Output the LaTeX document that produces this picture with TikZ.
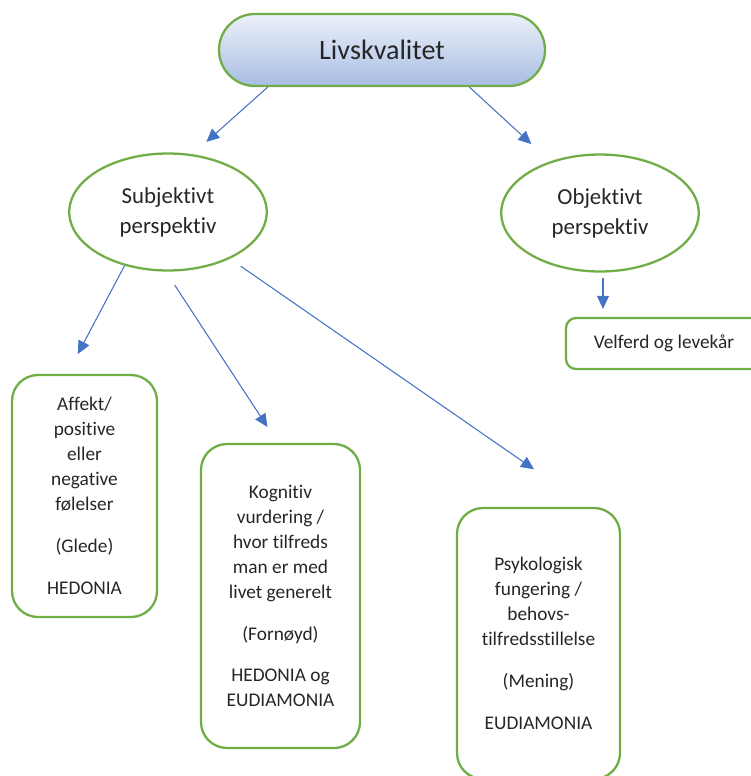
\documentclass[tikz,border=0pt]{standalone}
\usepackage{fontspec}
\setmainfont{Carlito}[Ligatures={NoCommon,NoRare}]
\usepackage{xcolor}
\usetikzlibrary{arrows.meta,shapes.geometric}

\definecolor{kantgronn}{HTML}{70AD47}
\definecolor{pilbla}{HTML}{4472C4}
\definecolor{lysbla}{HTML}{EDF1FA}
\definecolor{morkbla}{HTML}{A8BDE3}

\begin{document}
\begin{tikzpicture}[
    hoved/.style={
        draw=kantgronn,
        line width=1.3pt,
        rounded corners=0.72cm,
        top color=lysbla,
        bottom color=morkbla,
        minimum width=6.52cm,
        minimum height=1.44cm,
        text=black!85,
        font=\fontsize{16}{19}\selectfont
    },
    perspektiv/.style={
        draw=kantgronn,
        line width=1.3pt,
        ellipse,
        inner sep=0pt,
        minimum width=3.95cm,
        minimum height=2.34cm,
        align=center,
        text=black!85,
        font=\fontsize{13}{17}\selectfont
    },
    boks/.style={
        draw=kantgronn,
        line width=1.3pt,
        rounded corners=0.52cm,
        inner sep=0pt,
        align=center,
        text=black!85,
        font=\fontsize{11}{14.2}\selectfont
    },
    pil/.style={-{Triangle[length=2.6mm,width=2.4mm]}, draw=pilbla, line width=0.6pt}
]
\useasboundingbox (0,0) rectangle (15.02,-15.52);

\node[hoved] (liv) at (7.64,-1.00) {Livskvalitet};

\node[perspektiv] (subj) at (3.36,-4.24) {Subjektivt\\perspektiv};
\node[perspektiv] (obj) at (12.00,-4.26) {Objektivt\\perspektiv};

\node[boks, rounded corners=0.2cm, minimum width=3.92cm, minimum height=1.02cm] (velferd) at (13.28,-6.87) {Velferd og levekår};

\node[boks, minimum width=2.90cm, minimum height=4.84cm] (affekt) at (1.69,-9.92)
    {Affekt/\\positive\\eller\\negative\\følelser\\[0.34cm](Glede)\\[0.34cm]HEDONIA};
\node[boks, minimum width=3.18cm, minimum height=6.08cm] (kognitiv) at (5.61,-11.92)
    {Kognitiv\\vurdering /\\hvor tilfreds\\man er med\\livet generelt\\[0.34cm](Fornøyd)\\[0.34cm]HEDONIA og\\EUDIAMONIA};
\node[boks, minimum width=3.26cm, minimum height=5.42cm] (psyk) at (10.77,-12.87)
    {Psykologisk\\fungering /\\behovs-\\tilfredsstillelse\\[0.34cm](Mening)\\[0.34cm]EUDIAMONIA};

\draw[pil, shorten >=0.37cm] (liv.198) -- (subj.67);
\draw[pil, shorten >=0.51cm] (liv.337.5) -- (obj.134);
\draw[pil, shorten >=0.45cm] (subj.231) -- (affekt.98.5);
\draw[pil, shorten <=0.32cm, shorten >=0.38cm] (subj.268.4) -- (kognitiv.91.2);
\draw[pil, shorten <=0.26cm, shorten >=1.32cm] (subj.323.4) -- (psyk.70.7);
\draw[pil, shorten <=0.11cm, shorten >=0.16cm] ([xshift=0.06cm]obj.south) -- ([xshift=0.06cm]obj.south |- velferd.north);
\end{tikzpicture}
\end{document}
